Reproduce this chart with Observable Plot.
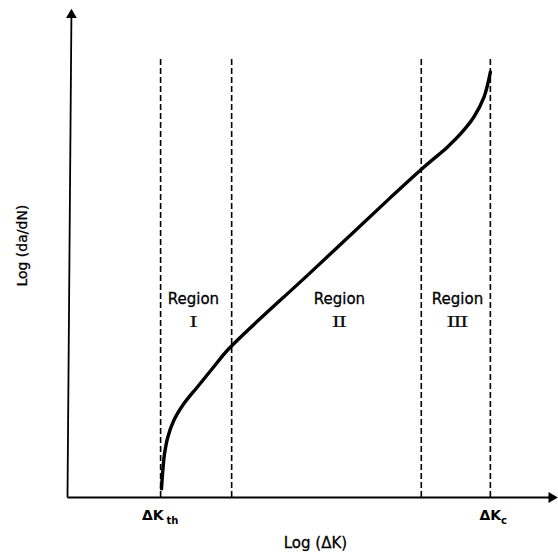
<!DOCTYPE html>
<html>
<head>
<meta charset="utf-8">
<script src="https://cdn.jsdelivr.net/npm/d3@7"></script>
<script src="https://cdn.jsdelivr.net/npm/@observablehq/plot@0.6"></script>
<style>
  html, body { margin: 0; padding: 0; background: #fff; }
</style>
</head>
<body>
<div id="chart"></div>
<script>
// Curve: Log(da/dN) vs Log(ΔK), arbitrary units (0–100)
const curveX = [19.18, 19.45, 19.8, 20.47, 21.69, 23.73, 26.47, 29.53, 32.92, 49.9, 65.9, 72.7, 77.5, 80.2, 82.9, 85.0, 86.3];
const curveY = [1.78, 5.51, 8.92, 12.31, 15.71, 19.12, 22.51, 26.27, 30.35, 46.2, 61.2, 67.4, 71.5, 74.2, 77.6, 81.7, 86.8];

// Region boundaries (dashed lines)
const boundaryX = [19.0, 33.5, 72.2, 86.3];
const boundaryTop = 89.6;

// Region labels
const regionNames = ["Region", "Region", "Region"];
const regionNumerals = ["Ⅰ", "Ⅱ", "Ⅲ"];
const regionX = [25.7, 55.5, 79.6];
const regionNameY = 40.4;
const regionNumY = 35.7;

// Tick labels on x axis
const tickMain = ["ΔK", "ΔK"];
const tickMainX = [17.4, 86.3];
const tickSub = ["th", "c"];
const tickSubX = [21.4, 89.1];
const tickY = -3.7;
const tickSubY = -4.7;

// Axis titles
const xTitle = "Log (ΔK)";
const yTitle = "Log (da/dN)";
const xTitlePos = [50.6, -9.4];
const yTitlePos = [-9.2, 51.4];

// Axis extents
const axisX = [0, 100];
const axisYTopX = 0.8;
const axisY = [0, 100];

const curve = curveX.map((x, i) => ({x, y: curveY[i]}));
const bounds = boundaryX.map(x => ({x, y1: 0, y2: boundaryTop}));
const regions = regionX.map((x, i) => ({x, name: regionNames[i], num: regionNumerals[i]}));
const ticks = tickMainX.map((x, i) => ({x, main: tickMain[i], sx: tickSubX[i], sub: tickSub[i]}));

const font = "DejaVu Sans, sans-serif";

const chart = Plot.plot({
  width: 558,
  height: 556,
  marginLeft: 67,
  marginRight: 1,
  marginTop: 7,
  marginBottom: 59,
  x: {domain: axisX, axis: null},
  y: {domain: axisY, axis: null},
  style: {fontFamily: font, background: "#fff", color: "#000"},
  marks: [
    // dashed region boundaries
    Plot.ruleX(bounds, {x: "x", y1: "y1", y2: "y2", stroke: "#000", strokeWidth: 1.6, strokeDasharray: "6,3"}),
    // axes
    Plot.link([{x1: axisX[0], y1: 0, x2: axisX[1] - 1.2, y2: 0}], {x1: "x1", y1: "y1", x2: "x2", y2: "y2", stroke: "#000", strokeWidth: 1.8}),
    Plot.link([{x1: 0, y1: 0, x2: axisYTopX, y2: axisY[1] - 1.5}], {x1: "x1", y1: "y1", x2: "x2", y2: "y2", stroke: "#000", strokeWidth: 1.8}),
    Plot.dot([{x: axisX[1] - 1.2, y: 0}], {x: "x", y: "y", symbol: "triangle", r: 4, rotate: 90, fill: "#000", stroke: "none"}),
    Plot.dot([{x: axisYTopX, y: axisY[1] - 1.5}], {x: "x", y: "y", symbol: "triangle", r: 4, rotate: 0, fill: "#000", stroke: "none"}),
    // curve
    Plot.line(curve, {x: "x", y: "y", curve: "catmull-rom", stroke: "#000", strokeWidth: 3.4, strokeLinecap: "round"}),
    // region labels
    Plot.text(regions, {x: "x", y: () => regionNameY, text: "name", fontSize: 15, fill: "#000", stroke: "#000", strokeWidth: 0.3}),
    Plot.text(regions, {x: "x", y: () => regionNumY, text: "num", fontSize: 14, fontFamily: "DejaVu Serif, serif", fill: "#111"}),
    // tick labels
    Plot.text(ticks, {x: "x", y: () => tickY, text: "main", fontSize: 14, fontWeight: "bold", fill: "#000"}),
    Plot.text(ticks, {x: "sx", y: () => tickSubY, text: "sub", fontSize: 10, fontWeight: "bold", fill: "#000"}),
    // axis titles
    Plot.text([xTitle], {x: () => xTitlePos[0], y: () => xTitlePos[1], text: d => d, fontSize: 15, fill: "#000", stroke: "#000", strokeWidth: 0.3}),
    Plot.text([yTitle], {x: () => yTitlePos[0], y: () => yTitlePos[1], text: d => d, fontSize: 14, rotate: -90, fill: "#000", stroke: "#000", strokeWidth: 0.3})
  ]
});
// widen the Roman numerals horizontally, as in the reference
d3.select(chart).selectAll("text")
  .filter(function() { return regionNumerals.includes(this.textContent); })
  .attr("transform", function() { return (this.getAttribute("transform") || "") + " scale(1.7,1)"; });
document.getElementById("chart").appendChild(chart);
</script>
</body>
</html>
